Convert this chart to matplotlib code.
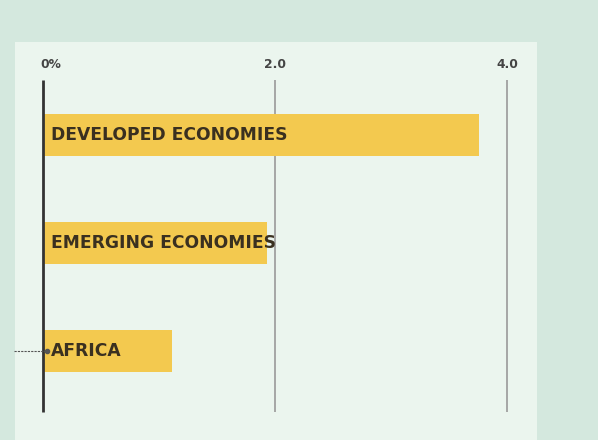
import matplotlib.pyplot as plt

categories = ["DEVELOPED ECONOMIES", "EMERGING ECONOMIES", "AFRICA"]
values = [3.76, 1.93, 1.11]
tick_values = [0, 2.0, 4.0]
tick_labels = ["0%", "2.0", "4.0"]

outer_bg = "#d4e8de"
panel_bg = "#ebf5ee"
bar_color = "#f3c94f"

fig = plt.figure(figsize=(5.98, 4.40), dpi=100, facecolor=outer_bg)
ax = fig.add_axes([15 / 598, 0, 522 / 598, 398 / 440], facecolor=panel_bg)

y = list(range(len(categories)))
ax.barh(y, values, height=0.39, color=bar_color, zorder=2)

# vertical reference lines
for t in tick_values:
    if t == 0:
        ax.vlines(t, -0.51, 2.565, color="#333333", lw=2, zorder=3)
    else:
        ax.vlines(t, -0.51, 2.565, color="#a0a0a0", lw=1.3, zorder=1)

for t, lab in zip(tick_values, tick_labels):
    xpos = t + 0.07 if t == 0 else t
    ax.text(xpos, -0.62, lab, ha="center", va="baseline", fontsize=8.8,
            fontweight="bold", color="#444444")

for yi, name in zip(y, categories):
    ax.text(0.07, yi, name, ha="left", va="center", fontsize=12.3,
            fontweight="bold", color="#3a3020", zorder=4)

# leader line into africa label
ax.plot([-0.25, 0.035], [2, 2], ls=(0, (2, 1)), color="#555555", lw=0.8,
        clip_on=False, zorder=4)
ax.plot([0.035], [2], "o", ms=3, color="#555555", zorder=4)

ax.set_xlim(-0.241, 4.259)
ax.set_ylim(2.824, -0.861)
ax.set_xticks([])
ax.set_yticks([])
for s in ax.spines.values():
    s.set_visible(False)

fig.savefig("out.png", dpi=100, facecolor=outer_bg)
